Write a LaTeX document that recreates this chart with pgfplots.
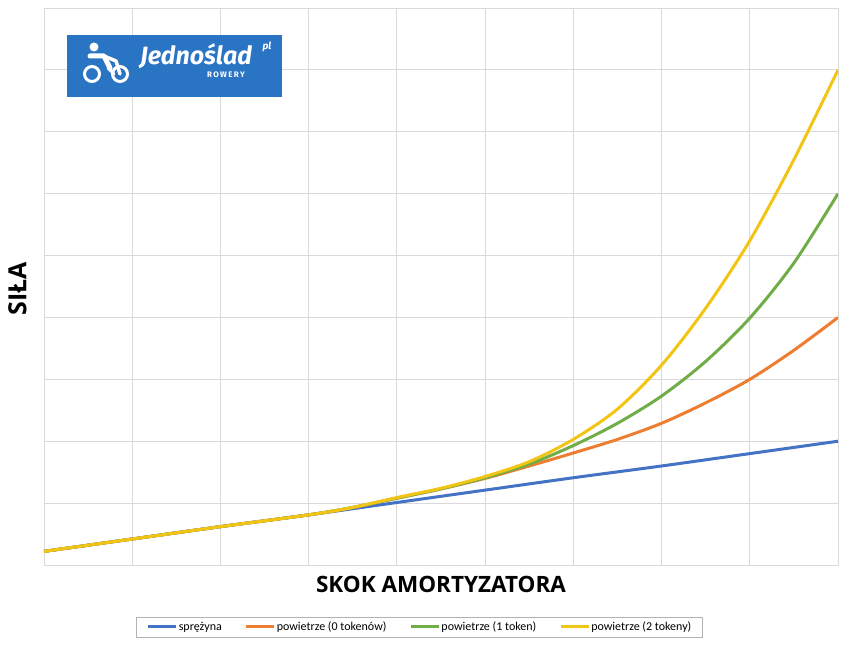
\documentclass[border=0pt]{standalone}
\usepackage{fontspec}
\setmainfont{Carlito}
\newfontfamily\osans{Open Sans}
\newfontfamily\fira{Fira Sans}
\usepackage{pgfplots}
\pgfplotsset{compat=1.18}
\definecolor{cblue}{RGB}{68,114,196}
\definecolor{corange}{RGB}{237,125,49}
\definecolor{cgreen}{RGB}{112,173,71}
\definecolor{cyellow}{RGB}{242,196,20}
\definecolor{gridc}{RGB}{217,217,217}
\definecolor{logob}{RGB}{42,116,196}
\begin{document}
\begin{tikzpicture}
\begin{axis}[
  at={(0pt,0pt)}, anchor=south west,
  scale only axis, width=794pt, height=557pt,
  xmin=0, xmax=9, ymin=0, ymax=9,
  xtick={0,...,9}, ytick={0,...,9},
  xticklabels={}, yticklabels={},
  major tick length=0pt,
  grid=major, grid style={draw=gridc, line width=0.8pt},
  axis line style={draw=gridc, line width=0.8pt},
  xlabel={\osans\bfseries SKOK AMORTYZATORA},
  ylabel={\osans\bfseries SIŁA},
  xlabel style={at={(axis description cs:0.5,-0.0341)}, anchor=center, font=\fontsize{22.5}{22.5}\selectfont},
  ylabel style={at={(axis description cs:-0.0335,0.496)}, anchor=center, font=\fontsize{25}{25}\selectfont},
  legend columns=4,
  legend style={at={(axis description cs:0.473,-0.1113)}, anchor=center,
    draw=gray!60, line width=0.6pt, font=\fontsize{12}{12.5}\selectfont,
    inner xsep=10pt, inner ysep=3pt,
    nodes={inner xsep=1pt, inner ysep=2pt},
    /tikz/every even column/.append style={column sep=22pt}},
  legend image code/.code={\draw[#1, line width=3pt] (0pt,0pt) -- (28pt,0pt);},
  every axis plot/.append style={line width=3pt, smooth},
]
\addplot[cblue] coordinates {(0,0.22) (1,0.42) (2,0.62) (3,0.81) (4,1.01) (5,1.21) (6,1.41) (7,1.60) (8,1.80) (9,2.00)};
\addlegendentry{sprężyna}
\addplot[corange] coordinates {(0,0.22) (1,0.42) (2,0.62) (3,0.81) (3.5,0.93) (4,1.08) (4.5,1.23) (5,1.40) (5.5,1.60) (6,1.81) (6.5,2.03) (7,2.29) (7.5,2.62) (8,3.0) (8.5,3.47) (9,4.0)};
\addlegendentry{powietrze (0 tokenów)}
\addplot[cgreen] coordinates {(0,0.22) (1,0.42) (2,0.62) (3,0.81) (3.5,0.93) (4,1.08) (4.5,1.23) (5,1.41) (5.5,1.63) (6,1.93) (6.5,2.29) (7,2.73) (7.5,3.29) (8,3.99) (8.5,4.88) (9,6.0)};
\addlegendentry{powietrze (1 token)}
\addplot[cyellow] coordinates {(0,0.22) (1,0.42) (2,0.62) (3,0.81) (3.5,0.93) (4,1.09) (4.5,1.24) (5,1.43) (5.5,1.67) (6,2.03) (6.5,2.52) (7,3.23) (7.5,4.15) (8,5.24) (8.5,6.55) (9,8.0)};
\addlegendentry{powietrze (2 tokeny)}
\end{axis}
% logo
\fill[logob] (23pt,468pt) rectangle (238pt,530pt);
\begin{scope}[white]
\draw[line width=3pt] (48pt,491pt) circle (7.5pt);
\draw[line width=3pt] (76pt,491pt) circle (7.5pt);
\fill (50pt,518pt) circle (4.5pt);
\draw[line width=5pt, line cap=round, line join=round] (46pt,509pt) -- (60pt,509pt) -- (66pt,497pt);
\draw[line width=3.5pt, line cap=round, line join=round] (60pt,509pt) -- (72pt,504pt) -- (76pt,491pt);
\draw[line width=3pt, line cap=round] (64pt,497pt) -- (70pt,491pt);
\node[font=\fira\bfseries\itshape\fontsize{25}{25}\selectfont, inner sep=0pt] at (152pt,509pt) {Jednoślad};
\node[font=\fira\bfseries\itshape\fontsize{10}{10}\selectfont, inner sep=0pt] at (223pt,518pt) {pl};
\node[font=\fira\bfseries\fontsize{8}{8}\selectfont, inner sep=0pt] at (182pt,490pt) {R\,O\,W\,E\,R\,Y};
\end{scope}
\pgfresetboundingbox
\path[use as bounding box] (-44pt,-81pt) rectangle (801pt,565pt);
\end{tikzpicture}
\end{document}
